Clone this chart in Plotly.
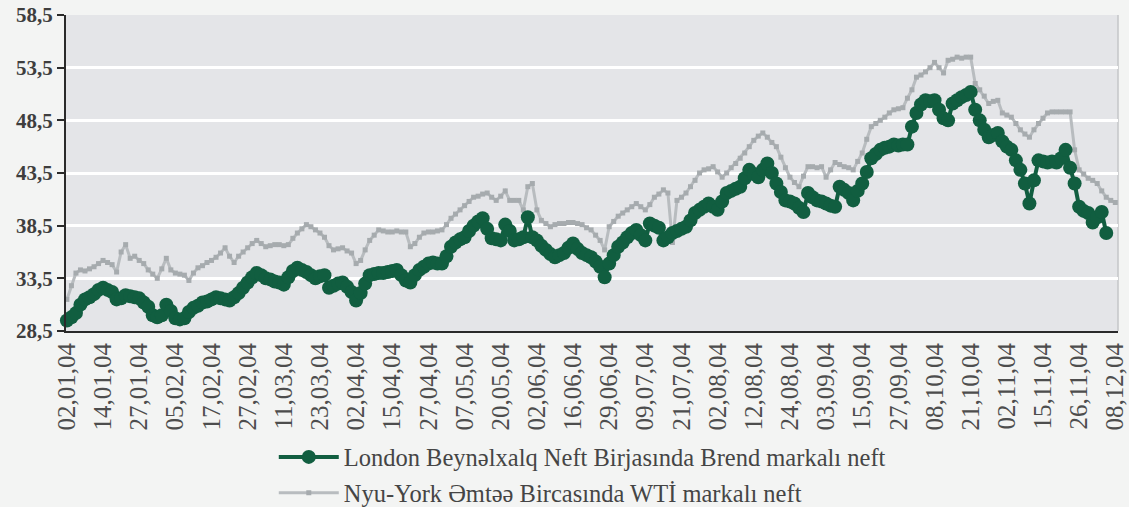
import plotly.graph_objects as go

tick_labels = ["02,01,04", "14,01,04", "27,01,04", "05,02,04", "17,02,04", "27,02,04",
               "11,03,04", "23,03,04", "02,04,04", "15,04,04", "27,04,04", "07,05,04",
               "20,05,04", "02,06,04", "16,06,04", "29,06,04", "09,07,04", "21,07,04",
               "02,08,04", "12,08,04", "24,08,04", "03,09,04", "15,09,04", "27,09,04",
               "08,10,04", "21,10,04", "02,11,04", "15,11,04", "26,11,04", "08,12,04"]
label_step = 8  # trading days between labels

brent = [29.5, 29.8, 30.2, 31.0, 31.5, 31.7, 32.0, 32.4, 32.6, 32.4,
         32.2, 31.5, 31.6, 31.9, 31.8, 31.7, 31.6, 31.2, 30.8, 30.0,
         29.8, 30.0, 31.0, 30.4, 29.7, 29.6, 29.7, 30.3, 30.7, 30.9,
         31.2, 31.3, 31.5, 31.7, 31.6, 31.5, 31.4, 31.7, 32.1, 32.6,
         33.1, 33.6, 34.0, 33.8, 33.5, 33.4, 33.2, 33.1, 32.9, 33.6,
         34.2, 34.5, 34.3, 34.1, 33.8, 33.5, 33.7, 33.8, 32.6, 32.8,
         33.0, 33.1, 32.7, 32.2, 31.4, 32.1, 33.0, 33.8, 33.9, 34.0,
         34.0, 34.1, 34.2, 34.3, 33.8, 33.3, 33.1, 33.8, 34.3, 34.6,
         34.9, 35.0, 34.9, 34.9, 35.6, 36.5, 36.9, 37.2, 37.4, 38.0,
         38.5, 38.9, 39.2, 38.2, 37.3, 37.2, 37.1, 38.6, 38.0, 37.1,
         37.2, 37.4, 39.3, 37.4, 37.1, 36.6, 36.2, 35.8, 35.5, 35.7,
         35.9, 36.4, 36.8, 36.3, 35.9, 35.7, 35.5, 35.1, 34.6, 33.6,
         34.9, 35.7, 36.5, 36.9, 37.4, 37.8, 38.1, 37.6, 37.1, 38.7,
         38.5, 38.3, 37.1, 37.4, 37.8, 38.0, 38.2, 38.4, 39.0, 39.7,
         40.0, 40.3, 40.6, 40.3, 40.0, 40.8, 41.6, 41.8, 42.0, 42.2,
         43.0, 43.8, 43.4, 43.1, 43.8, 44.4, 43.5, 42.5, 41.7, 40.9,
         40.8, 40.6, 40.2, 39.8, 41.6, 41.2, 40.9, 40.8, 40.6, 40.4,
         40.3, 42.2, 41.9, 41.6, 40.9, 41.8, 42.5, 43.6, 44.9, 45.3,
         45.7, 45.9, 46.0, 46.2, 46.1, 46.2, 46.2, 47.9, 49.2, 50.0,
         50.4, 50.3, 50.4, 49.5, 48.7, 48.5, 50.1, 50.4, 50.7, 50.9,
         51.2, 49.5, 48.5, 47.6, 46.9, 47.1, 47.3, 46.5, 46.0, 45.7,
         44.7, 43.8, 42.5, 40.6, 42.8, 44.7, 44.6, 44.5, 44.6, 44.5,
         44.9, 45.7, 44.0, 42.5, 40.3, 39.9, 39.7, 38.8, 39.3, 39.8,
         37.8]

wti = [31.5, 32.8, 34.0, 34.3, 34.2, 34.4, 34.6, 34.9, 35.2, 35.0,
       34.8, 34.1, 36.0, 36.7, 35.4, 35.6, 35.2, 34.9, 34.3, 33.9,
       33.5, 34.4, 35.4, 34.3, 34.0, 33.9, 33.8, 33.3, 34.0, 34.5,
       34.7, 35.0, 35.2, 35.5, 35.9, 36.4, 35.6, 35.0, 35.6, 36.0,
       36.4, 36.8, 37.1, 36.8, 36.5, 36.6, 36.7, 36.7, 36.6, 36.7,
       37.3, 37.8, 38.2, 38.6, 38.4, 38.1, 37.8, 37.4, 36.6, 36.2,
       36.3, 36.4, 36.1, 35.9, 34.9, 35.2, 36.2, 37.1, 37.6, 38.1,
       38.0, 37.9, 37.9, 38.0, 37.9, 37.9, 36.5, 36.8, 37.4, 37.8,
       37.9, 37.9, 38.0, 38.1, 38.6, 39.2, 39.6, 40.0, 40.4, 40.8,
       41.2, 41.3, 41.5, 41.6, 41.2, 40.9, 41.3, 41.8, 40.9, 40.9,
       40.9, 40.0, 42.2, 42.5, 40.0, 39.0, 38.7, 38.4, 38.6, 38.7,
       38.7, 38.8, 38.8, 38.7, 38.6, 38.3, 38.1, 37.6, 37.1, 36.2,
       38.4, 38.9, 39.4, 39.7, 40.0, 40.3, 40.6, 40.3, 40.0, 40.5,
       41.2, 41.5, 41.9, 41.6, 36.9, 40.9, 41.2, 41.6, 42.2, 42.8,
       43.5, 43.8, 43.9, 44.1, 43.6, 43.1, 43.5, 44.0, 44.4, 44.9,
       45.4, 46.0, 46.6, 47.0, 47.3, 46.9, 46.4, 46.0, 45.0, 44.0,
       43.1, 42.6, 42.2, 43.2, 44.1, 44.1, 44.0, 44.1, 43.1, 43.8,
       44.5, 44.3, 44.1, 44.0, 43.8, 44.6, 45.4, 46.7, 47.9, 48.2,
       48.5, 48.8, 49.2, 49.5, 49.6, 49.7, 50.6, 51.4, 52.6, 52.8,
       53.1, 53.5, 54.0, 53.5, 53.0, 54.2, 54.3, 54.5, 54.4, 54.5,
       54.5, 52.0, 51.4, 50.8, 50.1, 50.3, 50.4, 49.2, 49.0, 48.8,
       48.2, 47.6, 47.2, 46.9, 47.6, 48.2, 48.7, 49.2, 49.3, 49.3,
       49.3, 49.3, 49.3, 45.7, 43.8, 43.4, 43.0, 42.8, 42.5, 41.8,
       41.2, 40.9, 40.7]

y_ticks = [28.5, 33.5, 38.5, 43.5, 48.5, 53.5, 58.5]
y_tick_text = ["28,5", "33,5", "38,5", "43,5", "48,5", "53,5", "58,5"]

names = ["London Beynəlxalq Neft Birjasında Brend markalı neft",
         "Nyu-York Əmtəə Bircasında WTİ markalı neft"]

GREEN = "#115e40"
GRAY_LINE = "#b8bcbf"
GRAY_MARK = "#a6abae"
SERIF = "Liberation Serif"

fig = go.Figure()
fig.add_trace(go.Scatter(
    x=list(range(len(wti))), y=wti, mode="lines+markers", name=names[1],
    line=dict(color=GRAY_LINE, width=3),
    marker=dict(symbol="square", size=5, color=GRAY_MARK),
    legendrank=2, legendgroup="b", cliponaxis=False))
fig.add_trace(go.Scatter(
    x=list(range(len(brent))), y=brent, mode="lines+markers", name=names[0],
    line=dict(color=GREEN, width=4),
    marker=dict(symbol="circle", size=14, color=GREEN),
    legendrank=1, legendgroup="a", cliponaxis=False))

tickvals = [i * label_step for i in range(len(tick_labels))]

fig.add_shape(type="line", xref="paper", yref="paper", x0=1, x1=1, y0=0, y1=1,
              line=dict(color="#c4c6c8", width=1.5), layer="below")

fig.update_layout(
    width=1129, height=507,
    margin=dict(l=66, r=11, t=15, b=176, autoexpand=False),
    paper_bgcolor="#f3f4f3",
    plot_bgcolor="#e4e5e8",
    font=dict(family=SERIF, color="#444444"),
    showlegend=True,
    legend=dict(orientation="v", xref="container", yref="container",
                x=0.2425, xanchor="left", y=0.143, yanchor="top",
                font=dict(family=SERIF, size=24.5, color="#454545"),
                bgcolor="rgba(0,0,0,0)", tracegroupgap=1, itemwidth=60),
    xaxis=dict(range=[-0.2, tickvals[-1] + 0.6], tickmode="array", tickvals=tickvals,
               ticktext=tick_labels, tickangle=-90, automargin=False,
               ticklabeloverflow="allow",
               tickfont=dict(family=SERIF, size=25, color="#4d4d4d"),
               showgrid=False, zeroline=False, showline=True,
               linecolor="#2a2a2a", linewidth=2, ticks=""),
    yaxis=dict(range=[28.5, 58.5], tickmode="array", tickvals=y_ticks,
               ticktext=y_tick_text, automargin=False,
               tickfont=dict(family=SERIF, size=21, color="#3e3e3e", weight="bold"),
               showgrid=True, gridcolor="#ffffff", gridwidth=3,
               zeroline=False, showline=True, linecolor="#2a2a2a", linewidth=2,
               ticks="outside", ticklen=7, tickcolor="#2a2a2a", tickwidth=2),
)

fig.write_html("out.html", config={"displayModeBar": False},
               post_script="document.body.style.margin='0';")
